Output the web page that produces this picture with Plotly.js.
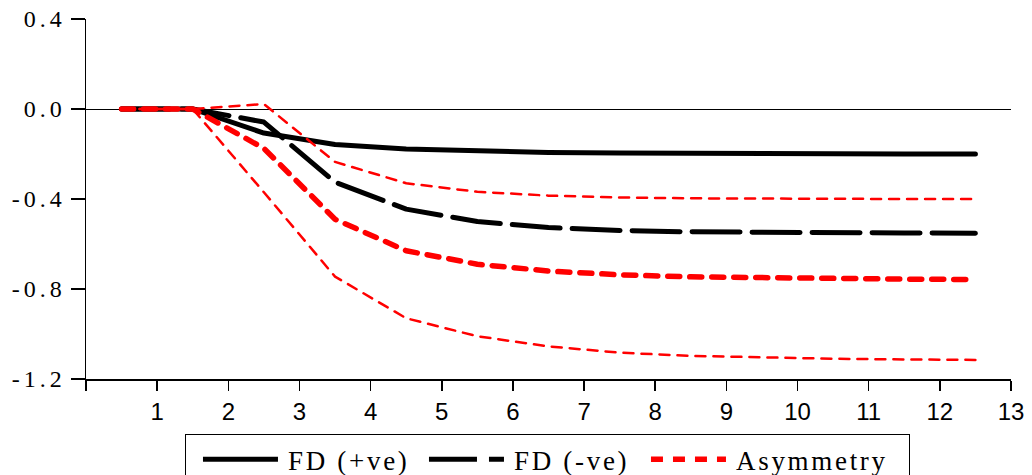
<!DOCTYPE html>
<html>
<head>
<meta charset="utf-8">
<script src="https://cdn.plot.ly/plotly-3.0.1.min.js"></script>
<style>
body{margin:0;padding:0;background:#fff;}
#chart{width:1032px;height:475px;}
.scatterlayer path.js-line{stroke-linecap:round;stroke-linejoin:round;}
.legendtext{letter-spacing:2.7px;transform:translate(5px,0px);}
.legend .scrollbox{transform:translate(12px,0px);}
.ytick text{letter-spacing:4px;}
</style>
</head>
<body>
<div id="chart"></div>
<script>
// Horizon (plotted at interval centres)
const periods = [0.5,1.5,2.5,3.5,4.5,5.5,6.5,7.5,8.5,9.5,10.5,11.5,12.5];
const xTickVals = [0,1,2,3,4,5,6,7,8,9,10,11,12,13];
const xTickText = ['','1','2','3','4','5','6','7','8','9','10','11','12','13'];
const yTickVals = [0.4,0.0,-0.4,-0.8,-1.2];
const yTickText = ['0.4','0.0','-0.4','-0.8','-1.2'];
const seriesNames = ['FD (+ve)','FD (-ve)','Asymmetry'];

const fdPos = [0,0,-0.107,-0.158,-0.178,-0.188,-0.193,-0.196,-0.198,-0.199,-0.2,-0.2,-0.2];
const fdNeg = [0,0,-0.058,-0.325,-0.445,-0.50,-0.527,-0.540,-0.546,-0.549,-0.55,-0.551,-0.552];
const asym  = [0,0,-0.175,-0.49,-0.63,-0.69,-0.72,-0.737,-0.746,-0.751,-0.754,-0.756,-0.758];
const upper = [0,0,0.022,-0.235,-0.33,-0.368,-0.385,-0.393,-0.397,-0.399,-0.40,-0.40,-0.40];
const lower = [0,0,-0.37,-0.745,-0.93,-1.01,-1.055,-1.083,-1.097,-1.105,-1.11,-1.113,-1.115];

const traces = [
  {x:periods,y:fdPos,mode:'lines',name:seriesNames[0],legendwidth:136,line:{color:'#000',width:5}},
  {x:periods,y:fdNeg,mode:'lines',name:seriesNames[1],legendwidth:132,line:{color:'#000',width:5,dash:'48px,12px'}},
  {x:periods,y:upper,mode:'lines',name:'upper band',showlegend:false,line:{color:'#ff0000',width:2.5,dash:'10px,8px'}},
  {x:periods,y:lower,mode:'lines',name:'lower band',showlegend:false,line:{color:'#ff0000',width:2.5,dash:'10px,8px'}},
  {x:periods,y:asym,mode:'lines',name:seriesNames[2],legendwidth:185,line:{color:'#ff0000',width:5.5,dash:'12px,10px'}}
];

const layout = {
  width:1032,height:475,
  margin:{l:86,r:21,t:19,b:96,autoexpand:false},
  paper_bgcolor:'#fff',plot_bgcolor:'#fff',
  showlegend:true,
  xaxis:{range:[0,13],tickvals:xTickVals,ticktext:xTickText,showgrid:false,zeroline:false,
    showline:true,linecolor:'#000',linewidth:2,ticks:'outside',ticklen:10,tickwidth:1.5,tickcolor:'#000',
    ticklabelstandoff:0,
    tickfont:{family:'Liberation Sans, Arial, sans-serif',size:24,color:'#000'},fixedrange:true},
  yaxis:{range:[-1.2,0.4],tickvals:yTickVals,ticktext:yTickText,showgrid:false,
    zeroline:true,zerolinecolor:'#000',zerolinewidth:1,
    showline:true,linecolor:'#000',linewidth:1.5,ticks:'outside',ticklen:14,tickwidth:1.5,tickcolor:'#000',
    ticklabelstandoff:0,
    tickfont:{family:'Liberation Serif, Times New Roman, serif',size:24,color:'#000'},fixedrange:true},
  legend:{orientation:'h',x:0.107,xanchor:'left',y:-0.153,yanchor:'top',
    bordercolor:'#000',borderwidth:1,bgcolor:'#fff',itemwidth:75,
    font:{family:'Liberation Serif, Times New Roman, serif',size:27,color:'#000'}},
  annotations:[
    {xref:'paper',yref:'paper',x:-0.093,y:1.055,yanchor:'bottom',xanchor:'left',showarrow:false,
     text:'(b) Cumulative Effect of Structural Financial Development',
     font:{family:'Liberation Serif, serif',size:27,color:'#000'}}
  ]
};
Plotly.newPlot('chart',traces,layout,{displayModeBar:false,staticPlot:true});
</script>
</body>
</html>
